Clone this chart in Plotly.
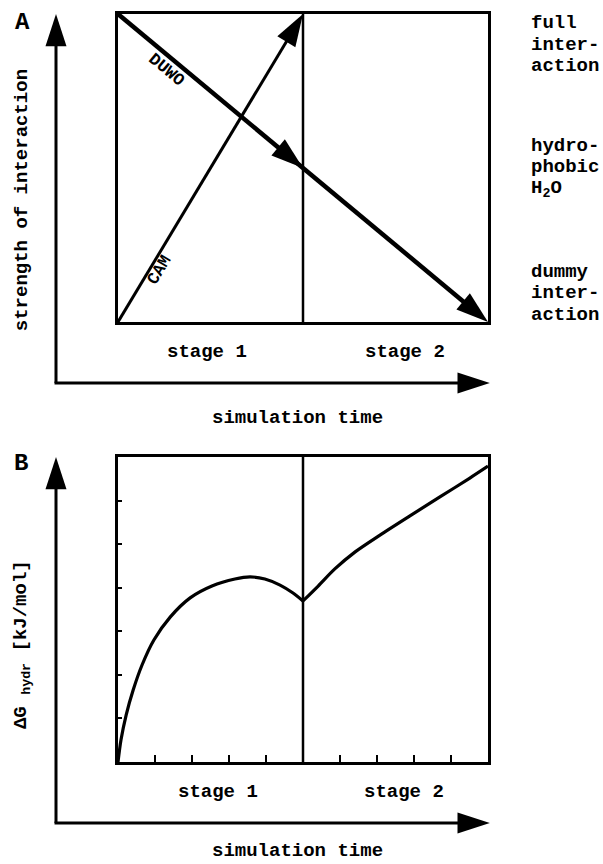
import math
import plotly.graph_objects as go

# ---------------- data ----------------
# Panel A: interaction-strength schedules (time fraction, strength fraction)
duwo_time = [0.0, 0.5, 1.0]
duwo_strength = [1.0, 0.5, 0.0]
cam_time = [0.0, 0.5]
cam_strength = [0.0, 1.0]

level_texts = [["full", "inter-", "action"],
               ["hydro-", "phobic", "H<sub>2</sub>O"],
               ["dummy", "inter-", "action"]]
level_values = [0.9, 0.503, 0.094]

stage_labels = ["stage 1", "stage 2"]
stage_label_x_a = [0.24, 0.776]
stage_label_x_b = [0.27, 0.773]
stage_boundary = 0.5

# Panel B: free energy of hydration vs simulation time (schematic)
dg_stage1_time = [0.0, 0.008, 0.022, 0.041, 0.065, 0.097, 0.141, 0.195, 0.254,
                  0.316, 0.357, 0.397, 0.438, 0.473, 0.5]
dg_stage1 = [0.0, 0.072, 0.154, 0.236, 0.318, 0.400, 0.475, 0.538, 0.577,
             0.600, 0.607, 0.600, 0.580, 0.554, 0.528]
dg_stage2_time = [0.5, 0.541, 0.586, 0.641, 0.708, 0.789, 0.870, 0.951, 1.0]
dg_stage2 = [0.528, 0.577, 0.633, 0.689, 0.744, 0.807, 0.869, 0.931, 0.970]

b_xticks = [0.1, 0.2, 0.3, 0.4, 0.6, 0.7, 0.8, 0.9]
b_yticks = [1/7, 2/7, 3/7, 4/7, 5/7, 6/7]

# ---------------- layout geometry ----------------
W, H = 603, 864
BOX_L, BOX_R = 118, 488
A_TOP, A_BOT = 14, 322
B_TOP, B_BOT = 457, 762
BW = BOX_R - BOX_L
AH = A_BOT - A_TOP
BH = B_BOT - B_TOP
X_DOM = [BOX_L / W, BOX_R / W]
A_DOM = [1 - A_BOT / H, 1 - A_TOP / H]
B_DOM = [1 - B_BOT / H, 1 - B_TOP / H]

FONT = "Liberation Mono"
BLACK = "#000000"

AXIS_X = (56 - BOX_L) / BW            # outer vertical arrow position
A_AXIS_Y = (A_BOT - 383) / AH         # outer horizontal arrow (A)
B_AXIS_Y = (B_BOT - 823) / BH         # outer horizontal arrow (B)
ARROW_TIP_X = 1.005

fig = go.Figure()

arrow_marker = dict(symbol="arrow", angleref="previous", color=BLACK, opacity=1,
                    line=dict(width=0))

# DUWO
fig.add_trace(go.Scatter(x=duwo_time, y=duwo_strength, mode="lines+markers",
                         line=dict(color=BLACK, width=4.5),
                         marker=dict(size=[0, 34, 34], **arrow_marker),
                         cliponaxis=False, xaxis="x", yaxis="y", showlegend=False))
# CAM
fig.add_trace(go.Scatter(x=cam_time, y=cam_strength, mode="lines+markers",
                         line=dict(color=BLACK, width=3),
                         marker=dict(size=[0, 34], **arrow_marker),
                         cliponaxis=False, xaxis="x", yaxis="y", showlegend=False))

# Panel B curves
for tx, ty in [(dg_stage1_time, dg_stage1), (dg_stage2_time, dg_stage2)]:
    fig.add_trace(go.Scatter(x=tx, y=ty, mode="lines",
                             line=dict(color=BLACK, width=3.2, shape="spline", smoothing=0.8),
                             cliponaxis=False, xaxis="x2", yaxis="y2", showlegend=False))

# Outer axis arrows drawn on per-panel canvases (x3/y3 for A, x4/y4 for B)
shapes = []
for xa, ya, axis_y in [("x3", "y3", A_AXIS_Y), ("x4", "y4", B_AXIS_Y)]:
    shapes.append(dict(type="line", xref=xa, yref=ya, x0=AXIS_X, x1=AXIS_X,
                       y0=axis_y, y1=0.95, line=dict(color=BLACK, width=3)))
    shapes.append(dict(type="line", xref=xa, yref=ya, x0=AXIS_X - 0.004, x1=ARROW_TIP_X - 0.05,
                       y0=axis_y, y1=axis_y, line=dict(color=BLACK, width=3)))
    fig.add_trace(go.Scatter(x=[AXIS_X, AXIS_X], y=[axis_y, 1.0], mode="markers",
                             marker=dict(size=[0, 34], **arrow_marker), cliponaxis=False,
                             xaxis=xa, yaxis=ya, showlegend=False, hoverinfo="skip"))
    fig.add_trace(go.Scatter(x=[AXIS_X, ARROW_TIP_X], y=[axis_y, axis_y], mode="markers",
                             marker=dict(size=[0, 34], **arrow_marker), cliponaxis=False,
                             xaxis=xa, yaxis=ya, showlegend=False, hoverinfo="skip"))

for xa, ya in [("x", "y"), ("x2", "y2")]:
    shapes.append(dict(type="line", xref=xa, yref=ya, x0=stage_boundary, x1=stage_boundary,
                       y0=0, y1=1, line=dict(color=BLACK, width=2.5)))

annotations = []
def txt(text, x, y, xref, yref, size=19, angle=0, xanchor="center", yanchor="middle",
        xshift=0, yshift=0, align="center"):
    annotations.append(dict(text=text, x=x, y=y, xref=xref, yref=yref, showarrow=False,
                            textangle=angle, xanchor=xanchor, yanchor=yanchor,
                            xshift=xshift, yshift=yshift, align=align,
                            font=dict(family=FONT, size=size, color=BLACK, weight="bold")))

# Panel A texts (canvas x3/y3 shares the box coordinates)
txt("A", -0.259, 0.971, "x3", "y3", size=24)
txt("strength of interaction", -0.259, 0.396, "x3", "y3", angle=-90)
txt("simulation time", 0.486, -0.312, "x3", "y3")
for lab, sx in zip(stage_labels, stage_label_x_a):
    txt(lab, sx, -0.097, "x3", "y3")
LINE_H = 21.5
for lines, lv in zip(level_texts, level_values):
    for i, line in enumerate(lines):
        txt(line, 1.111, lv, "x3", "y3", xanchor="left", yshift=(1 - i) * LINE_H, align="left")

ang_duwo = math.degrees(math.atan(AH / BW))
ang_cam = -math.degrees(math.atan(AH / (BW * 0.5)))
txt("DUWO", 0.153, 1 - 0.153, "x3", "y3", size=17, angle=ang_duwo, xshift=-7.7, yshift=-9.2)
txt("CAM", 0.0925, 0.185, "x3", "y3", size=17, angle=ang_cam, xshift=7.7, yshift=-4.6)

# Panel B texts
txt("B", -0.262, 0.980, "x4", "y4", size=24)
txt("ΔG <sub>hydr</sub> [kJ/mol]", -0.259, 0.384, "x4", "y4", angle=-90)
txt("simulation time", 0.486, -0.292, "x4", "y4")
for lab, sx in zip(stage_labels, stage_label_x_b):
    txt(lab, sx, -0.098, "x4", "y4")

axis_common = dict(range=[0, 1], showgrid=False, zeroline=False, showline=True,
                   mirror=True, linecolor=BLACK, linewidth=2.5, showticklabels=False,
                   fixedrange=True)
canvas_common = dict(visible=False, showgrid=False, zeroline=False, fixedrange=True)

X_CANVAS = [-BOX_L / BW, (W - BOX_L) / BW]
A_CANVAS = [(A_BOT - H / 2) / AH, A_BOT / AH]
B_CANVAS = [(B_BOT - H) / BH, (B_BOT - H / 2) / BH]

fig.update_layout(
    width=W, height=H, margin=dict(l=0, r=0, t=0, b=0),
    paper_bgcolor="white", plot_bgcolor="rgba(0,0,0,0)",
    xaxis=dict(domain=X_DOM, anchor="y", ticks="", **axis_common),
    yaxis=dict(domain=A_DOM, anchor="x", ticks="", **axis_common),
    xaxis2=dict(domain=X_DOM, anchor="y2", ticks="inside", tickvals=b_xticks,
                ticklen=7, tickwidth=2, tickcolor=BLACK, **axis_common),
    yaxis2=dict(domain=B_DOM, anchor="x2", ticks="inside", tickvals=b_yticks,
                ticklen=4, tickwidth=2, tickcolor=BLACK, **axis_common),
    xaxis3=dict(domain=[0, 1], anchor="y3", range=X_CANVAS, **canvas_common),
    yaxis3=dict(domain=[0.5, 1], anchor="x3", range=A_CANVAS, **canvas_common),
    xaxis4=dict(domain=[0, 1], anchor="y4", range=X_CANVAS, **canvas_common),
    yaxis4=dict(domain=[0, 0.5], anchor="x4", range=B_CANVAS, **canvas_common),
    shapes=shapes, annotations=annotations, showlegend=False,
)

fig.write_html("out.html", config={"displayModeBar": False},
               post_script="document.body.style.margin='0';")
